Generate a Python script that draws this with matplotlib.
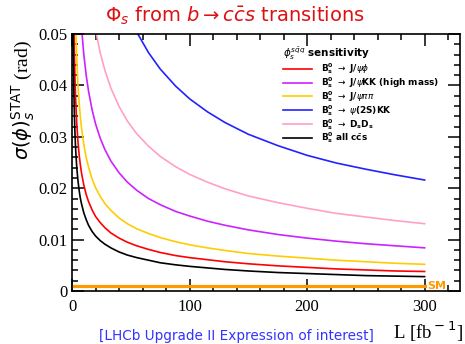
import numpy as np
import matplotlib
matplotlib.use('Agg')
import matplotlib.pyplot as plt
from matplotlib.ticker import MultipleLocator
from matplotlib.lines import Line2D

# integrated luminosity [fb^-1]
lumi = [0.5, 0.75, 1, 1.25, 1.5, 2, 2.5, 3, 4, 5, 6, 7, 8, 10, 12, 14, 17, 20, 24,
        28, 33, 40, 47, 55, 65, 75, 88, 100, 115, 130, 150, 175, 200, 225, 250, 275, 300]

# sigma(phi_s) stat per channel
all_ccs = [.0679, .0554, .0480, .0429, .0392, .0339, .0304, .0277, .0240, .0215,
           .0196, .0181, .0170, .0152, .0139, .0128, .0116, .0107, .0098, .0091,
           .0084, .0076, .0070, .0065, .0060, .0055, .0051, .0048, .0045, .0042,
           .0039, .0036, .0034, .0032, .0030, .0029, .0028]
jpsiphi = [.0919, .0751, .0650, .0581, .0531, .0460, .0411, .0375, .0325, .0291,
           .0265, .0246, .0230, .0206, .0188, .0174, .0158, .0145, .0133, .0123,
           .0113, .0103, .0095, .0088, .0081, .0075, .0069, .0065, .0061, .0057,
           .0053, .0049, .0046, .0043, .0041, .0039, .0038]
jpsipipi = [.1273, .1039, .0900, .0805, .0735, .0636, .0569, .0520, .0450, .0402,
            .0367, .0340, .0318, .0285, .0260, .0241, .0218, .0201, .0184, .0170,
            .0157, .0142, .0131, .0121, .0112, .0104, .0096, .0090, .0084, .0079,
            .0073, .0068, .0064, .0060, .0057, .0054, .0052]
jpsikk = [.2058, .1680, .1455, .1301, .1188, .1029, .0920, .0840, .0728, .0651,
          .0594, .0550, .0514, .0460, .0420, .0389, .0353, .0325, .0297, .0275,
          .0253, .0230, .0212, .0196, .0180, .0168, .0155, .0146, .0136, .0128,
          .0119, .0110, .0103, .0097, .0092, .0088, .0084]
dsds = [.321, .262, .227, .203, .1853, .1605, .1436, .1311, .1135, .1015,
        .0927, .0858, .0803, .0718, .0655, .0607, .0551, .0508, .0463, .0429,
        .0395, .0359, .0331, .0306, .0282, .0262, .0242, .0227, .0212, .0199,
        .0185, .0172, .0161, .0151, .0144, .0137, .0131]
psi2skk = [.529, .432, .374, .3345, .3054, .2645, .2365, .2159, .187, .1673,
           .1527, .1414, .1322, .1183, .1080, .1000, .0907, .0836, .0763, .0707,
           .0651, .0591, .0546, .0504, .0464, .0432, .0399, .0374, .0349, .0328,
           .0305, .0283, .0264, .0249, .0237, .0226, .0216]

sm_value = 0.001
sm_range = [0, 300]

series = [
    (jpsiphi, '#ff0000', r'$\mathbf{B_s^0}$ $\rightarrow$ J/$\psi\phi$'),
    (jpsikk, '#cc22ff', r'$\mathbf{B_s^0}$ $\rightarrow$ J/$\psi$KK (high mass)'),
    (jpsipipi, '#ffcc00', r'$\mathbf{B_s^0}$ $\rightarrow$ J/$\psi\pi\pi$'),
    (psi2skk, '#2222ff', r'$\mathbf{B_s^0}$ $\rightarrow$ $\psi$(2S)KK'),
    (dsds, '#ffa0c8', r'$\mathbf{B_s^0}$ $\rightarrow$ D$_\mathbf{s}$D$_\mathbf{s}$'),
    (all_ccs, '#000000', r'$\mathbf{B_s^0}$ all c$\bar{\mathbf{c}}$s'),
]

plt.rcParams['mathtext.fontset'] = 'dejavusans'

fig = plt.figure(figsize=(4.65, 3.44), dpi=100)
ax = fig.add_axes([0.155, 0.154, 0.834, 0.747])

handles = []
for vals, col, lab in series:
    ax.plot(lumi, vals, color=col, lw=1.2)
    handles.append(Line2D([], [], color=col, lw=1.2, label=lab))

ax.plot(sm_range, [sm_value, sm_value], color='#ff9900', lw=2.3)
ax.text(302, sm_value, 'SM', color='#ff9900', fontsize=8, fontweight='bold',
        va='center', ha='left')

ax.set_xlim(0, 330)
ax.set_ylim(0, 0.05)
ax.xaxis.set_major_locator(MultipleLocator(100))
ax.xaxis.set_minor_locator(MultipleLocator(20))
ax.yaxis.set_major_locator(MultipleLocator(0.01))
ax.yaxis.set_minor_locator(MultipleLocator(0.002))
ax.yaxis.set_major_formatter(plt.FuncFormatter(lambda v, p: '0' if v == 0 else f'{v:.2f}'))
ax.tick_params(which='both', direction='in', top=True, right=True, width=1.1)
ax.tick_params(which='major', length=8.5, labelsize=12)
ax.tick_params(which='minor', length=4.3)
ax.tick_params(axis='x', which='major', pad=6)
for lab in ax.get_xticklabels() + ax.get_yticklabels():
    lab.set_family('Liberation Serif')
for s in ax.spines.values():
    s.set_linewidth(1.2)

leg = ax.legend(handles=handles, loc='upper left', bbox_to_anchor=(0.545, 0.955),
                frameon=False, prop={'size': 6.4, 'weight': 'bold'},
                handlelength=3.2, handletextpad=1.0, labelspacing=-0.12,
                borderaxespad=0, borderpad=0,
                title=r'$\phi_s^{s\bar{q}q}$ sensitivity',
                title_fontproperties={'size': 7.5, 'weight': 'bold'},
                alignment='left')

fig.text(0.505, 0.955, r'$\Phi_s$ from $b \rightarrow c\bar{c}s$ transitions',
         color='#dd1111', fontsize=14, ha='center', va='center')
fig.text(0.05, 0.71, r'$\sigma(\phi)_s^{\rm STAT}$ (rad)', rotation=90,
         fontsize=14, family='Liberation Serif', ha='center', va='center')
fig.text(0.995, 0.035, r'L [fb$^{\rm -1}$]', fontsize=13.5, family='Liberation Serif',
         ha='right', va='center')
fig.text(0.508, 0.022, '[LHCb Upgrade II Expression of interest]', color='#3333ff',
         fontsize=9.8, ha='center', va='center')

fig.savefig('out.png', dpi=100)
